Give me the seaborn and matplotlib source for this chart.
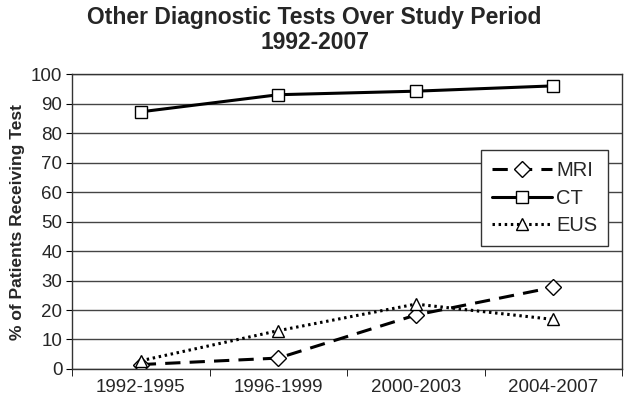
import pandas as pd
import matplotlib
matplotlib.use("Agg")
import matplotlib.pyplot as plt
import seaborn as sns

# Values
periods = ["1992-1995", "1996-1999", "2000-2003", "2004-2007"]
mri = [1.5, 3.7, 18.3, 27.7]
ct = [87.2, 93.0, 94.2, 96.0]
eus = [2.8, 13.0, 22.0, 16.8]

sns.set_style("white")
plt.rcParams["font.family"] = ["Liberation Sans", "DejaVu Sans"]

fig = plt.figure(figsize=(6.29, 4.07), dpi=100)
ax = fig.add_axes([0.1145, 0.0934, 0.8745, 0.7246])

x = list(range(len(periods)))
sns.lineplot(x=x, y=mri, ax=ax, color="black", lw=2.2, marker="D", markersize=8,
             markerfacecolor="white", markeredgecolor="black", markeredgewidth=1.0,
             label="MRI", linestyle=(0, (5, 3)))
sns.lineplot(x=x, y=ct, ax=ax, color="black", lw=2.2, marker="s", markersize=8,
             markerfacecolor="white", markeredgecolor="black", markeredgewidth=1.0,
             label="CT")
sns.lineplot(x=x, y=eus, ax=ax, color="black", lw=2.2, marker="^", markersize=9,
             markerfacecolor="white", markeredgecolor="black", markeredgewidth=1.0,
             label="EUS", linestyle=(0, (0.8, 1.2)))

ax.set_xlim(-0.5, 3.5)
ax.set_ylim(0, 100)
ax.set_yticks(range(0, 101, 10))
ax.set_xticks(x)
ax.set_xticklabels(periods)
ax.set_xticks([-0.5, 0.5, 1.5, 2.5, 3.5], minor=True)
ax.tick_params(axis="x", which="major", length=0, labelsize=13.5, pad=7)
ax.tick_params(axis="x", which="minor", length=5, color="black", direction="out", bottom=True)
ax.tick_params(axis="y", length=4, color="black", direction="out", left=True, labelsize=13.5, pad=3)
ax.yaxis.grid(True, color="#444444", lw=1.0)
for s in ax.spines.values():
    s.set_color("#333333")
    s.set_linewidth(1.0)

ax.set_ylabel("% of Patients Receiving Test", fontsize=12.5, fontweight="bold", labelpad=4)
fig.suptitle("Other Diagnostic Tests Over Study Period\n1992-2007", fontsize=16.5,
             fontweight="bold", y=0.985, linespacing=1.1)

leg = ax.legend(loc="upper right", bbox_to_anchor=(0.975, 0.742), fontsize=14.5,
                frameon=True, fancybox=False, edgecolor="#333333", handlelength=3.0,
                handletextpad=0.2, borderpad=0.55, labelspacing=0.42, borderaxespad=0)
leg.get_frame().set_linewidth(1.0)
leg.get_frame().set_alpha(1)

fig.savefig("out.png", dpi=100)
